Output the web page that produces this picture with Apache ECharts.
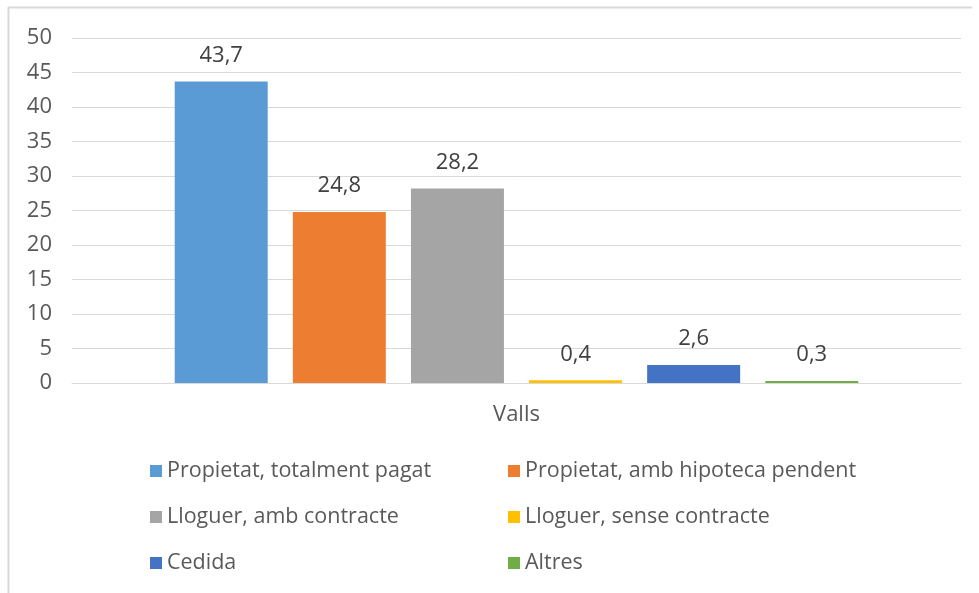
<!DOCTYPE html>
<html>
<head>
<meta charset="utf-8">
<script src="https://cdn.jsdelivr.net/npm/echarts@6/dist/echarts.min.js"></script>
<style>
  html, body { margin: 0; padding: 0; background: #fff; }
  #chart { width: 979px; height: 593px; }
</style>
</head>
<body>
<div id="chart"></div>
<script>
// dades
var categories = ['Valls'];
var seriesNames = [
    'Propietat, totalment pagat',
    'Propietat, amb hipoteca pendent',
    'Lloguer, amb contracte',
    'Lloguer, sense contracte',
    'Cedida',
    'Altres'
];
var seriesValues = [43.7, 24.8, 28.2, 0.4, 2.6, 0.3];
var colors = ['#5B9BD5', '#ED7D31', '#A5A5A5', '#FFC000', '#4472C4', '#70AD47'];
var yTicks = [0, 5, 10, 15, 20, 25, 30, 35, 40, 45, 50];

var font = '"Open Sans", "Noto Sans", sans-serif';

var series = seriesNames.map(function (name, i) {
    return {
        name: name,
        type: 'bar',
        barWidth: 93,
        barGap: '27%',
        data: [seriesValues[i]],
        itemStyle: { color: colors[i] },
        label: {
            show: true,
            position: 'top',
            distance: 15,
            color: '#404040',
            fontSize: 22,
            fontFamily: font,
            formatter: function (p) {
                return String(p.value).replace('.', ',');
            }
        }
    };
});

var legendBase = {
    orient: 'vertical',
    top: 455,
    itemWidth: 12,
    itemHeight: 12,
    itemGap: 24,
    icon: 'rect',
    textStyle: { color: '#595959', fontSize: 21.5, fontFamily: font }
};

var option = {
    animation: false,
    backgroundColor: '#fff',
    graphic: [
        { type: 'line', shape: { x1: 8.5, y1: 7, x2: 8.5, y2: 593 }, style: { stroke: '#d9d9d9', lineWidth: 2 } },
        { type: 'line', shape: { x1: 8, y1: 7.5, x2: 972, y2: 7.5 }, style: { stroke: '#d9d9d9', lineWidth: 2 } }
    ],
    grid: { left: 72, right: 18, top: 38, height: 345 },
    legend: [
        Object.assign({}, legendBase, { left: 145, data: [seriesNames[0], seriesNames[2], seriesNames[4]] }),
        Object.assign({}, legendBase, { left: 503, data: [seriesNames[1], seriesNames[3], seriesNames[5]] })
    ],
    xAxis: {
        type: 'category',
        data: categories,
        axisLine: { show: true, lineStyle: { color: '#d9d9d9' } },
        axisTick: { show: false },
        axisLabel: { color: '#595959', fontSize: 22, fontFamily: font, margin: 21 }
    },
    yAxis: {
        type: 'value',
        min: yTicks[0],
        max: yTicks[yTicks.length - 1],
        interval: 5,
        axisLine: { show: false },
        axisTick: { show: false },
        splitLine: { lineStyle: { color: '#d9d9d9' } },
        axisLabel: { color: '#595959', fontSize: 22, fontFamily: font, margin: 20 }
    },
    series: series
};

var chart = echarts.init(document.getElementById('chart'));
chart.setOption(option, true);
</script>
</body>
</html>
